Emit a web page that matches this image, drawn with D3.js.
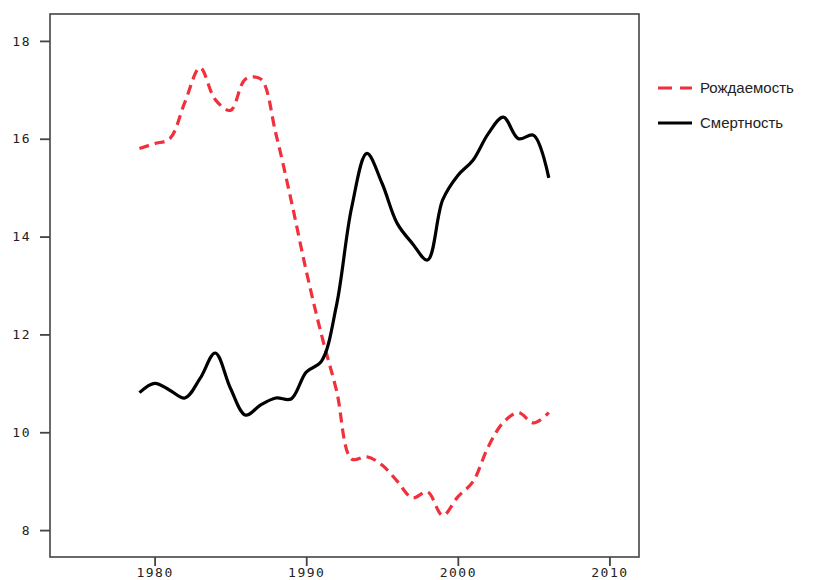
<!DOCTYPE html>
<html><head><meta charset="utf-8">
<script src="https://cdn.jsdelivr.net/npm/d3@7"></script>
<style>body{margin:0;background:#fff}</style>
</head><body><svg id="c" width="827" height="580"></svg>
<script>
const years = d3.range(1979, 2007);
const births = [15.8,15.9,16.0,16.75,17.45,16.8,16.58,17.22,17.22,16.1,14.75,13.3,12.0,10.85,9.45,9.5,9.33,9.0,8.66,8.78,8.3,8.68,8.99,9.7,10.2,10.4,10.19,10.4];
const deaths = [10.81,11.0,10.86,10.7,11.1,11.62,10.9,10.35,10.56,10.7,10.68,11.23,11.45,12.6,14.6,15.7,15.09,14.27,13.86,13.52,14.75,15.25,15.56,16.1,16.44,16.0,16.07,15.2];
const xTicks = [1980,1990,2000,2010];
const yTicks = [8,10,12,14,16,18];
const seriesNames = ["Рождаемость","Смертность"];

const svg = d3.select("#c");
const L=50, R=639, T=14, B=557;
const x = d3.scaleLinear().domain([1973.1, 2011.95]).range([L,R]);
const y = d3.scaleLinear().domain([7.45, 18.55]).range([B,T]);
const axisColor="#444";
const tickFont='"DejaVu Sans Mono", monospace';

svg.append("rect").attr("x",L).attr("y",T).attr("width",R-L).attr("height",B-T)
  .attr("fill","none").attr("stroke",axisColor).attr("stroke-width",1.6);

const ya = svg.append("g").attr("transform",`translate(${L},0)`)
  .call(d3.axisLeft(y).tickValues(yTicks).tickSize(10).tickPadding(9).tickFormat(d3.format("d")));
const xa = svg.append("g").attr("transform",`translate(0,${B})`)
  .call(d3.axisBottom(x).tickValues(xTicks).tickSize(9).tickPadding(2).tickFormat(d3.format("d")));
[ya,xa].forEach(g=>{
  g.select(".domain").remove();
  g.selectAll("line").attr("stroke",axisColor).attr("stroke-width",1.8);
  g.selectAll("text").attr("fill","#222").style("font-family",tickFont).style("font-size","13px").style("letter-spacing","1.5px");
});

const line = d3.line().x((d,i)=>x(years[i])).y(d=>y(d)).curve(d3.curveCatmullRom.alpha(0.5));
svg.append("path").datum(births).attr("d",line).attr("fill","none")
  .attr("stroke","#f0303c").attr("stroke-width",3.2).attr("stroke-dasharray","10,6");
svg.append("path").datum(deaths).attr("d",line).attr("fill","none")
  .attr("stroke","#000").attr("stroke-width",3.2);

const lg = svg.append("g");
const items=[{n:seriesNames[0],c:"#f0303c",d:"14,8",y:88},{n:seriesNames[1],c:"#000",d:null,y:123}];
items.forEach(it=>{
  lg.append("line").attr("x1",658).attr("x2",692).attr("y1",it.y).attr("y2",it.y)
    .attr("stroke",it.c).attr("stroke-width",3).attr("stroke-dasharray",it.d);
  lg.append("text").attr("x",700).attr("y",it.y+5).text(it.n)
    .attr("fill","#222").style("font-family",'"Liberation Sans", Arial, sans-serif').style("font-size","15px");
});
</script></body></html>
